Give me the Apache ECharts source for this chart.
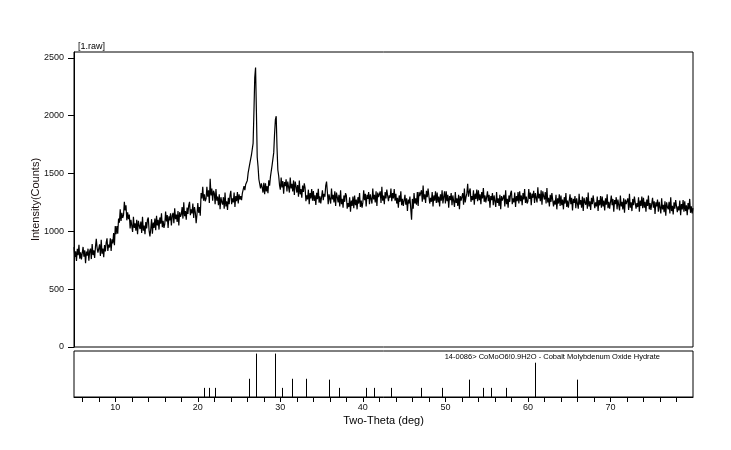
<!DOCTYPE html>
<html>
<head>
<meta charset="utf-8">
<title>1.raw</title>
<script src="https://cdn.jsdelivr.net/npm/echarts@6/dist/echarts.min.js"></script>
<style>
  html, body { margin: 0; background: #fff; }
  #chart { width: 731px; height: 450px; }
</style>
</head>
<body>
<div id="chart"></div>
<script>
// measured scan, 2-theta from 5 to 80 deg in 0.1 deg steps
const thetaStart = 5;
const thetaStep = 0.1;
const counts = [
  863, 778, 828, 743, 848, 793, 883, 763, 818, 758,
  760, 865, 780, 835, 725, 825, 790, 850, 745, 830,
  850, 760, 890, 795, 835, 770, 865, 935, 855, 815,
  822, 887, 787, 927, 807, 852, 777, 882, 827, 902,
  940, 830, 885, 860, 940, 830, 930, 895, 985, 880,
  1045, 975, 1045, 980, 1110, 1075, 1190, 1090, 1160, 1115,
  1140, 1255, 1180, 1225, 1095, 1165, 1105, 1145, 1025, 1100,
  1085, 995, 1125, 1030, 1070, 1005, 1100, 975, 1090, 1050,
  1020, 1085, 985, 1125, 1005, 1050, 975, 1080, 1025, 1100,
  1120, 1005, 955, 1020, 1105, 980, 1075, 1030, 1110, 1010,
  1135, 1050, 1100, 1015, 1120, 1065, 1155, 1035, 1090, 1030,
  1065, 1170, 1085, 1140, 1030, 1130, 1095, 1155, 1050, 1135,
  1160, 1070, 1200, 1105, 1145, 1080, 1175, 1050, 1165, 1125,
  1145, 1210, 1110, 1250, 1130, 1175, 1100, 1205, 1150, 1225,
  1255, 1140, 1190, 1155, 1240, 1115, 1210, 1165, 1070, 1145,
  1245, 1160, 1210, 1135, 1330, 1285, 1385, 1265, 1320, 1260,
  1280, 1385, 1300, 1355, 1245, 1455, 1310, 1370, 1265, 1350,
  1330, 1235, 1365, 1265, 1300, 1225, 1320, 1190, 1295, 1255,
  1230, 1295, 1195, 1335, 1215, 1260, 1185, 1290, 1235, 1310,
  1350, 1235, 1285, 1250, 1335, 1210, 1305, 1260, 1340, 1240,
  1320, 1275, 1305, 1270, 1330, 1320, 1390, 1355, 1405, 1405,
  1440, 1505, 1510, 1585, 1585, 1660, 1665, 1760, 2030, 2330,
  2415, 2040, 1640, 1560, 1450, 1460, 1370, 1415, 1380, 1335,
  1420, 1320, 1415, 1345, 1390, 1330, 1440, 1395, 1470, 1455,
  1570, 1560, 1680, 1840, 1965, 1995, 1720, 1530, 1480, 1400,
  1360, 1465, 1380, 1435, 1325, 1425, 1390, 1450, 1345, 1430,
  1425, 1335, 1465, 1370, 1410, 1345, 1440, 1315, 1430, 1390,
  1335, 1400, 1300, 1440, 1320, 1365, 1290, 1395, 1340, 1415,
  1375, 1260, 1310, 1275, 1360, 1235, 1330, 1285, 1365, 1265,
  1347, 1262, 1312, 1227, 1332, 1277, 1367, 1247, 1302, 1242,
  1250, 1355, 1270, 1325, 1300, 1395, 1430, 1340, 1235, 1320,
  1330, 1240, 1370, 1275, 1315, 1250, 1345, 1220, 1335, 1295,
  1250, 1315, 1215, 1355, 1235, 1280, 1205, 1310, 1255, 1330,
  1310, 1195, 1245, 1210, 1295, 1170, 1265, 1220, 1300, 1200,
  1310, 1225, 1275, 1190, 1295, 1240, 1330, 1210, 1265, 1205,
  1250, 1355, 1270, 1325, 1215, 1315, 1280, 1340, 1235, 1320,
  1330, 1240, 1370, 1275, 1315, 1250, 1345, 1220, 1335, 1295,
  1280, 1345, 1245, 1385, 1265, 1310, 1235, 1340, 1285, 1360,
  1375, 1260, 1310, 1290, 1370, 1260, 1330, 1285, 1365, 1265,
  1325, 1240, 1290, 1205, 1310, 1255, 1345, 1225, 1280, 1220,
  1210, 1315, 1230, 1285, 1175, 1275, 1240, 1300, 1195, 1100,
  1280, 1195, 1330, 1240, 1285, 1230, 1340, 1220, 1340, 1305,
  1290, 1355, 1255, 1395, 1275, 1320, 1245, 1350, 1295, 1370,
  1355, 1240, 1290, 1255, 1340, 1215, 1310, 1265, 1345, 1245,
  1335, 1250, 1300, 1215, 1320, 1265, 1355, 1240, 1300, 1345,
  1240, 1345, 1260, 1315, 1205, 1305, 1270, 1330, 1225, 1310,
  1300, 1210, 1340, 1245, 1285, 1220, 1315, 1190, 1305, 1265,
  1265, 1330, 1230, 1370, 1250, 1295, 1330, 1410, 1300, 1345,
  1370, 1255, 1305, 1270, 1355, 1230, 1325, 1280, 1360, 1260,
  1355, 1270, 1320, 1235, 1340, 1285, 1375, 1255, 1310, 1250,
  1240, 1345, 1260, 1315, 1205, 1305, 1270, 1330, 1225, 1310,
  1300, 1210, 1340, 1245, 1285, 1220, 1315, 1190, 1305, 1265,
  1250, 1315, 1215, 1355, 1235, 1280, 1205, 1310, 1255, 1330,
  1350, 1235, 1285, 1250, 1335, 1210, 1305, 1260, 1340, 1240,
  1345, 1260, 1310, 1225, 1330, 1275, 1365, 1245, 1300, 1240,
  1260, 1365, 1280, 1335, 1225, 1325, 1290, 1350, 1245, 1330,
  1340, 1250, 1380, 1285, 1325, 1260, 1355, 1230, 1345, 1305,
  1275, 1340, 1240, 1375, 1250, 1290, 1215, 1315, 1255, 1330,
  1330, 1215, 1265, 1230, 1315, 1190, 1285, 1240, 1320, 1220,
  1310, 1225, 1275, 1190, 1295, 1240, 1330, 1210, 1265, 1205,
  1215, 1320, 1235, 1290, 1180, 1280, 1245, 1305, 1200, 1285,
  1285, 1195, 1325, 1230, 1270, 1205, 1300, 1175, 1290, 1250,
  1230, 1295, 1195, 1335, 1215, 1260, 1185, 1290, 1235, 1310,
  1315, 1200, 1250, 1215, 1300, 1175, 1270, 1225, 1305, 1205,
  1300, 1215, 1265, 1180, 1285, 1230, 1320, 1200, 1255, 1195,
  1205, 1310, 1225, 1280, 1170, 1270, 1235, 1295, 1190, 1275,
  1270, 1180, 1310, 1215, 1255, 1190, 1285, 1160, 1275, 1235,
  1220, 1285, 1185, 1325, 1205, 1250, 1175, 1280, 1225, 1300,
  1310, 1195, 1245, 1210, 1295, 1170, 1265, 1220, 1300, 1200,
  1290, 1205, 1255, 1170, 1275, 1220, 1310, 1190, 1245, 1185,
  1185, 1290, 1205, 1260, 1150, 1250, 1215, 1275, 1170, 1255,
  1245, 1155, 1285, 1190, 1230, 1165, 1260, 1135, 1250, 1210,
  1190, 1255, 1155, 1295, 1175, 1220, 1145, 1250, 1195, 1270,
  1280, 1165, 1215, 1180, 1265, 1140, 1235, 1190, 1270, 1170,
  1260, 1175, 1225, 1140, 1245, 1190, 1280, 1160, 1215, 1155,
  1200
];

// 14-0086 CoMoO6.0.9H2O reference lines
const refPositions = [20.8, 21.3, 22.1, 26.2, 27.0, 29.3, 30.2, 31.4, 33.05, 35.9, 37.1,
  40.4, 41.3, 43.4, 47.1, 49.6, 52.8, 54.5, 55.5, 57.3, 60.9, 66.0];
const refIntensities = [21, 21, 21, 42, 100, 100, 21, 42, 42, 40, 21,
  21, 21, 21, 21, 21, 40, 21, 21, 21, 79, 40];

const intensityTicks = [0, 500, 1000, 1500, 2000, 2500];
const thetaTicks = [6, 8, 10, 12, 14, 16, 18, 20, 22, 24, 26, 28, 30, 32, 34, 36, 38, 40,
  42, 44, 46, 48, 50, 52, 54, 56, 58, 60, 62, 64, 66, 68, 70, 72, 74, 76, 78];
const thetaLabels = [10, 20, 30, 40, 50, 60, 70];

const scanName = "[1.raw]";
const phaseName = "14-0086> CoMoO6!0.9H2O - Cobalt Molybdenum Oxide Hydrate";

const font = "'Liberation Sans', Arial, sans-serif";

const chart = echarts.init(document.querySelector("#chart"));

const scan = counts.map((c, i) => [+(thetaStart + i * thetaStep).toFixed(1), c]);
const sticks = refPositions.map((p, i) => [p, refIntensities[i]]);

function renderStick(params, api) {
  const top = api.coord([api.value(0), api.value(1)]);
  const base = api.coord([api.value(0), 0]);
  const x = Math.round(top[0]) + 0.5;
  return {
    type: "line",
    shape: { x1: x, y1: base[1], x2: x, y2: top[1] },
    style: { stroke: "#000", lineWidth: 1 }
  };
}

chart.setOption({
  animation: false,
  backgroundColor: "#fff",
  textStyle: { fontFamily: font },
  grid: [
    { left: 74, top: 52, width: 619, height: 295, show: true, borderColor: "#000", borderWidth: 1 },
    { left: 74, top: 351, width: 619, height: 46, show: true, borderColor: "#000", borderWidth: 1 }
  ],
  xAxis: [
    { type: "value", gridIndex: 0, min: 5, max: 80, show: false },
    {
      type: "value",
      gridIndex: 1,
      min: 5,
      max: 80,
      name: "Two-Theta (deg)",
      nameLocation: "middle",
      nameGap: 18,
      nameTextStyle: { color: "#000", fontSize: 11, fontFamily: font },
      axisLine: { lineStyle: { color: "#000" } },
      axisTick: { length: 5, customValues: thetaTicks, lineStyle: { color: "#000" } },
      axisLabel: { customValues: thetaLabels, color: "#111", fontSize: 9, margin: 6, fontFamily: font },
      splitLine: { show: false }
    }
  ],
  yAxis: [
    {
      type: "value",
      gridIndex: 0,
      min: 0,
      max: 2550,
      name: "Intensity(Counts)",
      nameLocation: "middle",
      nameGap: 33,
      nameMoveOverlap: false,
      nameTextStyle: { color: "#1a1010", fontSize: 11, fontFamily: font },
      axisLine: { show: true, lineStyle: { color: "#000" } },
      axisTick: { length: 6, customValues: intensityTicks, lineStyle: { color: "#000" } },
      axisLabel: {
        customValues: intensityTicks,
        formatter: (v) => String(v),
        color: "#111",
        fontSize: 9,
        margin: 10,
        fontFamily: font
      },
      splitLine: { show: false }
    },
    { type: "value", gridIndex: 1, min: 0, max: 106, show: false }
  ],
  graphic: [
    { type: "text", left: 78, top: 42, style: { text: scanName, fill: "#000", font: "9px " + font } },
    { type: "text", right: 71, top: 353, style: { text: phaseName, fill: "#000", font: "7.5px " + font } }
  ],
  series: [
    {
      type: "line",
      xAxisIndex: 0,
      yAxisIndex: 0,
      data: scan,
      showSymbol: false,
      lineStyle: { color: "#000", width: 1.2 },
      silent: true
    },
    {
      type: "custom",
      coordinateSystem: "cartesian2d",
      xAxisIndex: 1,
      yAxisIndex: 1,
      data: sticks,
      encode: { x: 0, y: 1 },
      renderItem: renderStick,
      silent: true
    }
  ]
});
</script>
</body>
</html>
